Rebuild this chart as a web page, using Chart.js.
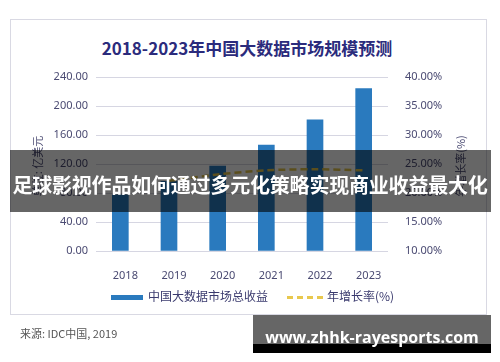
<!DOCTYPE html>
<html>
<head>
<meta charset="utf-8">
<script src="https://cdn.jsdelivr.net/npm/chart.js@4.4.0/dist/chart.umd.min.js"></script>
<style>
  body { margin: 0; background: #fff; font-family: 'Noto Sans', 'Noto Sans CJK SC', sans-serif; }
  #wrap { position: relative; width: 500px; height: 362px; overflow: hidden; }
  #frame { position: absolute; left: 10px; top: 19px; width: 475px; height: 294px; border: 1px solid #d9d9e3; }
  canvas { position: absolute; left: 0; top: 0; }
  .title { position: absolute; left: 0; width: 494px; top: 35px; text-align: center; font: bold 17px 'Noto Sans CJK SC', sans-serif; color: #2b2b7c; }
  .vtitle { position: absolute; font: 11px 'Noto Sans CJK SC', sans-serif; color: #4a4a72; transform: rotate(-90deg); transform-origin: center; white-space: nowrap; width: 100px; text-align: center; }
  .legend { position: absolute; top: 287px; font: 12px 'Noto Sans CJK SC', sans-serif; color: #3a3a6e; white-space: nowrap; }
  .src { position: absolute; left: 20px; top: 325px; font: 11px 'Noto Sans CJK SC', sans-serif; color: #555; }
  .band { position: absolute; left: 10px; top: 150px; width: 481px; height: 62px; background: rgba(0,0,0,0.6); }
  .bandtext { position: absolute; left: 0; width: 500px; top: 170px; text-align: center; font: bold 20px 'Noto Sans CJK SC', sans-serif; color: #fff; letter-spacing: -0.2px; white-space: nowrap; }
  .wm { position: absolute; left: 253px; top: 315px; width: 238px; height: 29px; background: rgba(0,0,0,0.6); }
  .wm2 { position: absolute; left: 253px; top: 344px; width: 238px; height: 9px; background: #000; }
  .wmtext { position: absolute; left: 253px; width: 238px; top: 326px; text-align: center; font: bold 16px 'Open Sans', sans-serif; color: #fff; white-space: nowrap; }
</style>
</head>
<body>
<div id="wrap">
  <div id="frame"></div>
  <div class="title">2018-2023年中国大数据市场规模预测</div>
  <canvas id="c" width="500" height="362"></canvas>
  <div class="vtitle" style="left:-13px; top:158px;">单位: 亿美元</div>
  <div class="vtitle" style="left:410px; top:158px;">年增长率(%)</div>
  <div class="legend" style="left:111px;"><span style="display:inline-block;width:32px;height:5px;background:#2a7abe;vertical-align:middle;margin-right:5px;"></span>中国大数据市场总收益</div>
  <div class="legend" style="left:287px;"><span style="display:inline-block;width:36px;height:0;border-top:3px dashed #e8c84e;vertical-align:middle;margin-right:4px;"></span>年增长率(%)</div>
  <div class="src">来源: IDC中国, 2019</div>
  <div class="band"></div>
  <div class="bandtext">足球影视作品如何通过多元化策略实现商业收益最大化</div>
  <div class="wm"></div>
  <div class="wm2"></div>
  <div class="wmtext">www.zhhk-rayesports.com</div>
</div>
<script>
const years = ['2018', '2019', '2020', '2021', '2022', '2023'];
const revenue = [77.6, 96, 117, 146, 181, 224];
const growth = [null, 22.1, 23.2, 23.9, 24.1, 23.9];
const leftTicks = [0, 40, 80, 120, 160, 200, 240];
const rightTicks = [10, 15, 20, 25, 30, 35, 40];

const tickFont = { family: "'Noto Sans', sans-serif", size: 11 };
const tickColor = '#4a4a72';

new Chart(document.getElementById('c'), {
  data: {
    labels: years,
    datasets: [
      {
        type: 'line',
        label: '年增长率(%)',
        data: growth,
        yAxisID: 'y1',
        borderColor: '#e2c24a',
        borderWidth: 2.5,
        borderDash: [7, 4],
        pointRadius: 0,
        tension: 0.3,
        order: 0
      },
      {
        type: 'bar',
        label: '中国大数据市场总收益',
        data: revenue,
        yAxisID: 'y',
        backgroundColor: '#2a7abe',
        barThickness: 16,
        order: 1
      }
    ]
  },
  options: {
    responsive: false,
    animation: false,
    layout: { padding: { top: 77, left: 0, right: 0, bottom: 0 } },
    plugins: { legend: { display: false }, tooltip: { enabled: false } },
    scales: {
      x: {
        grid: { display: false },
        border: { display: false },
        ticks: { color: tickColor, font: tickFont, padding: 10, labelOffset: 5 },
        afterFit: (s) => { s.height = 111; }
      },
      y: {
        position: 'left',
        min: leftTicks[0],
        max: leftTicks[leftTicks.length - 1],
        afterBuildTicks: (s) => { s.ticks = leftTicks.map(v => ({ value: v })); },
        grid: { color: '#d6d6e2', drawTicks: false },
        border: { display: false },
        ticks: { color: tickColor, font: tickFont, padding: 8, callback: v => v.toFixed(2) },
        afterFit: (s) => { s.width = 96; }
      },
      y1: {
        position: 'right',
        min: rightTicks[0],
        max: rightTicks[rightTicks.length - 1],
        afterBuildTicks: (s) => { s.ticks = rightTicks.map(v => ({ value: v })); },
        grid: { display: false, drawTicks: false },
        border: { display: false },
        ticks: { color: tickColor, font: tickFont, padding: 17, callback: v => v.toFixed(2) + '%' },
        afterFit: (s) => { s.width = 112; }
      }
    }
  }
});
</script>
</body>
</html>
